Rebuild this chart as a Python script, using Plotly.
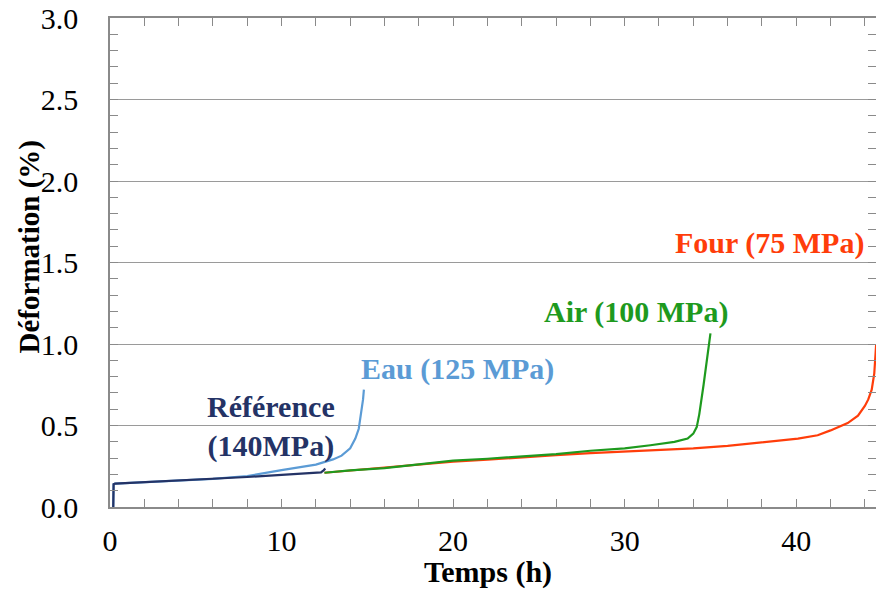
import plotly.graph_objects as go

# ---- data ----
ref_x = [0.19, 0.21, 0.3, 2, 4, 6, 8, 10, 12, 12.3, 12.45, 12.55]
ref_y = [0.0, 0.14, 0.144, 0.152, 0.162, 0.173, 0.184, 0.197, 0.208, 0.212, 0.225, 0.236]

eau_x = [0.19, 0.21, 0.3, 2, 4, 6, 8, 9, 10, 11, 12, 13, 13.5, 14, 14.3, 14.5, 14.65, 14.75, 14.8]
eau_y = [0.0, 0.14, 0.144, 0.152, 0.162, 0.173, 0.19, 0.206, 0.226, 0.243, 0.26, 0.292, 0.315, 0.36, 0.42, 0.48, 0.58, 0.66, 0.72]

air_x = [12.5, 14, 16, 18, 20, 22, 24, 26, 28, 30, 31.5, 32.9, 33.67, 34.0, 34.2, 34.35, 34.6, 34.85, 35.0]
air_y = [0.21, 0.225, 0.238, 0.262, 0.285, 0.296, 0.31, 0.325, 0.345, 0.36, 0.379, 0.40, 0.42, 0.45, 0.49, 0.57, 0.75, 0.93, 1.065]

four_x = [12.5, 15, 18, 20, 22, 24, 26, 28, 30, 31.5, 34, 36, 38, 40.1, 41.25, 42, 43, 43.6, 44.0, 44.2, 44.4, 44.55, 44.66]
four_y = [0.21, 0.232, 0.256, 0.278, 0.29, 0.305, 0.318, 0.33, 0.34, 0.348, 0.36, 0.375, 0.395, 0.42, 0.44, 0.47, 0.515, 0.56, 0.62, 0.66, 0.72, 0.82, 1.0]

labels = ["Four (75 MPa)", "Air (100 MPa)", "Eau (125 MPa)", "Référence<br>(140MPa)"]
label_x = [38.46, 30.65, 20.28, 9.38]
label_y = [1.62, 1.195, 0.845, 0.495]

C_FOUR = "#FF3D0A"
C_AIR = "#1E9A1E"
C_EAU = "#5B9BD5"
C_REF = "#243366"

FONT = "Liberation Serif, Times New Roman, serif"

fig = go.Figure()
fig.add_trace(go.Scatter(x=four_x, y=four_y, mode="lines", line=dict(color=C_FOUR, width=2.2), showlegend=False))
fig.add_trace(go.Scatter(x=air_x, y=air_y, mode="lines", line=dict(color=C_AIR, width=2.2), showlegend=False))
fig.add_trace(go.Scatter(x=eau_x, y=eau_y, mode="lines", line=dict(color=C_EAU, width=2.2), showlegend=False))
fig.add_trace(go.Scatter(x=ref_x, y=ref_y, mode="lines", line=dict(color=C_REF, width=2.2), showlegend=False))

label_colors = [C_FOUR, C_AIR, C_EAU, C_REF]
for t, x, y, c in zip(labels, label_x, label_y, label_colors):
    fig.add_annotation(x=x, y=y, xref="x", yref="y", text=f"<b>{t}</b>", showarrow=False,
                       font=dict(family=FONT, size=30, color=c), xanchor="center", yanchor="middle")

# axis titles
fig.add_annotation(x=0.4935, y=-0.133, xref="paper", yref="paper", text="<b>Temps (h)</b>", showarrow=False,
                   font=dict(family=FONT, size=30, color="black"), xanchor="center", yanchor="middle")
fig.add_annotation(x=-0.105, y=0.532, xref="paper", yref="paper", text="<b>Déformation (%)</b>", showarrow=False,
                   textangle=-90, font=dict(family=FONT, size=29, color="black"), xanchor="center", yanchor="middle")

axis_col = "#8A8A8A"
fig.update_layout(
    width=876, height=590,
    margin=dict(l=110, r=0, t=18, b=83),
    plot_bgcolor="white", paper_bgcolor="white",
    font=dict(family=FONT, size=30, color="black"),
    xaxis=dict(range=[0, 44.65], tickmode="linear", tick0=0, dtick=10, automargin=False,
               ticks="inside", ticklen=8, tickcolor=axis_col, tickwidth=1,
               minor=dict(dtick=2, ticks="inside", ticklen=8, tickcolor=axis_col, showgrid=False),
               showgrid=False, zeroline=False, showline=True, linecolor=axis_col, linewidth=1.5,
               mirror="ticks", ticklabelstandoff=6, ticklabeloverflow="allow",
               tickfont=dict(family=FONT, size=30)),
    yaxis=dict(range=[0, 3.0], tickmode="linear", tick0=0, dtick=0.5, tickformat=".1f", automargin=False,
               ticks="inside", ticklen=8, tickcolor=axis_col, tickwidth=1,
               minor=dict(dtick=0.1, ticks="inside", ticklen=8, tickcolor=axis_col, showgrid=False),
               showgrid=True, gridcolor="#9A9A9A", gridwidth=1.2,
               zeroline=False, showline=True, linecolor=axis_col, linewidth=1.5,
               mirror="ticks", ticklabelstandoff=24, ticklabeloverflow="allow",
               tickfont=dict(family=FONT, size=30)),
)

fig.write_html("out.html", config={"displayModeBar": False},
               post_script="document.body.style.margin='0';document.body.style.overflow='hidden';")
